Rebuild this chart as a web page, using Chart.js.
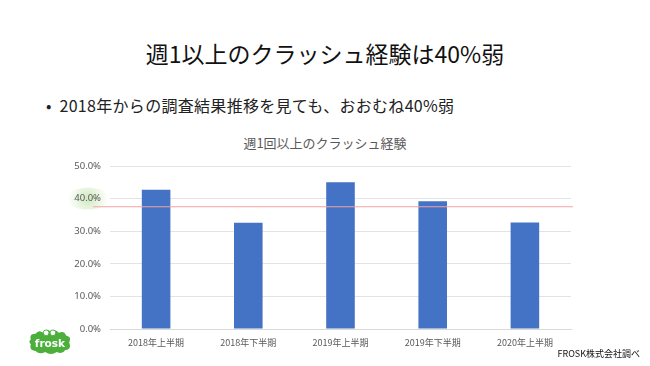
<!DOCTYPE html>
<html lang="ja">
<head>
  <meta charset="UTF-8" />
  <title>週1以上のクラッシュ経験</title>
  <script src="https://cdn.jsdelivr.net/npm/chart.js"></script>
  <style>
    html, body { margin: 0; padding: 0; background: #fff; }
    body {
      width: 650px; height: 366px; position: relative; overflow: hidden;
      font-family: "Noto Sans CJK JP", "Noto Sans", sans-serif;
    }
    .slide-title {
      position: absolute; left: 0; top: 37px; width: 650px;
      text-align: center; font-size: 23px; color: #111; line-height: 32px;
    }
    .bullet {
      position: absolute; left: 46px; top: 94px;
      font-size: 16px; color: #222; line-height: 22px; letter-spacing: 0.3px;
    }
    .chart-title {
      position: absolute; left: 0; top: 134px; width: 650px;
      text-align: center; font-size: 13px; color: #595959; line-height: 18px;
    }
    .chart-box {
      position: absolute; left: 60px; top: 151px; width: 530px; height: 205px;
    }
    .source {
      position: absolute; right: 10px; top: 347px;
      font-size: 9px; color: #111; line-height: 14px;
    }
    .logo { position: absolute; left: 27px; top: 326px; }
  </style>
</head>
<body>
  <div class="slide-title">週1以上のクラッシュ経験は40%弱</div>
  <div class="bullet">•&nbsp;&nbsp;2018年からの調査結果推移を見ても、おおむね40%弱</div>
  <div class="chart-title">週1回以上のクラッシュ経験</div>

  <div class="chart-box"><canvas id="crashChart"></canvas></div>

  <!-- logo -->
  <svg class="logo" width="46" height="29" viewBox="0 0 48 30">
    <path d="M4 14 Q2 8 9 8 Q12 3 17 7 Q20 1 25 6 Q30 2 33 7 Q39 4 41 10 Q47 11 44 17 Q47 24 40 25 Q37 30 31 27 Q25 31 19 27 Q13 30 9 26 Q2 25 4 19 Q1 16 4 14 Z" fill="#4caf3c"/>
    <circle cx="20" cy="7" r="3" fill="#fff" stroke="#4caf3c" stroke-width="1"/>
    <circle cx="27" cy="7" r="3" fill="#fff" stroke="#4caf3c" stroke-width="1"/>
    <text x="24" y="22" text-anchor="middle" font-family="DejaVu Sans" font-weight="bold" font-size="11" fill="#fff">frosk</text>
  </svg>

  <div class="source">FROSK株式会社調べ</div>

  <script>
    const periods = ['2018年上半期', '2018年下半期', '2019年上半期', '2019年下半期', '2020年上半期'];
    const crashRate = [42.7, 32.6, 45.0, 39.2, 32.7];
    const refLine = 37.5;       // 赤い目安線
    const highlightTick = 40;   // 緑で強調する目盛り

    const decorPlugin = {
      id: 'decor',
      beforeDraw(chart) {
        const { ctx } = chart;
        const y = chart.scales.y.getPixelForValue(highlightTick);
        const x = chart.chartArea.left - 22;
        ctx.save();
        const g = ctx.createRadialGradient(x, y, 2, x, y, 20);
        g.addColorStop(0, 'rgba(205,232,188,0.85)');
        g.addColorStop(1, 'rgba(205,232,188,0)');
        ctx.fillStyle = g;
        ctx.beginPath();
        ctx.ellipse(x, y, 22, 11, 0, 0, Math.PI * 2);
        ctx.fill();
        ctx.restore();
      },
      afterDatasetsDraw(chart) {
        const { ctx, chartArea } = chart;
        const y = chart.scales.y.getPixelForValue(refLine);
        ctx.save();
        ctx.strokeStyle = '#f2a3a3';
        ctx.lineWidth = 1;
        ctx.beginPath();
        ctx.moveTo(chartArea.left - 17, y);
        ctx.lineTo(chartArea.right + 2, y);
        ctx.stroke();
        ctx.restore();
      }
    };

    new Chart(document.getElementById('crashChart'), {
      type: 'bar',
      data: {
        labels: periods,
        datasets: [{
          data: crashRate,
          backgroundColor: '#4472c4',
          categoryPercentage: 1,
          barPercentage: 0.31
        }]
      },
      options: {
        responsive: true,
        maintainAspectRatio: false,
        animation: false,
        layout: { padding: { top: 15, right: 19, left: 0, bottom: 0 } },
        plugins: {
          legend: { display: false },
          tooltip: { enabled: false }
        },
        scales: {
          x: {
            grid: { display: false, drawTicks: false },
            border: { color: '#d9d9d9' },
            ticks: { color: '#595959', font: { size: 9, family: 'Noto Sans CJK JP' }, padding: 8, maxRotation: 0 },
            afterFit(s) { s.height = 27; }
          },
          y: {
            min: 0, max: 50,
            grid: { color: '#e3e3e3', drawTicks: false },
            border: { display: false },
            ticks: {
              stepSize: 10,
              padding: 9,
              color: '#595959',
              font: { size: 9.5, family: 'Noto Sans' },
              callback: v => v.toFixed(1) + '%'
            },
            afterFit(s) { s.width = 50; }
          }
        }
      },
      plugins: [decorPlugin]
    });
  </script>
</body>
</html>
